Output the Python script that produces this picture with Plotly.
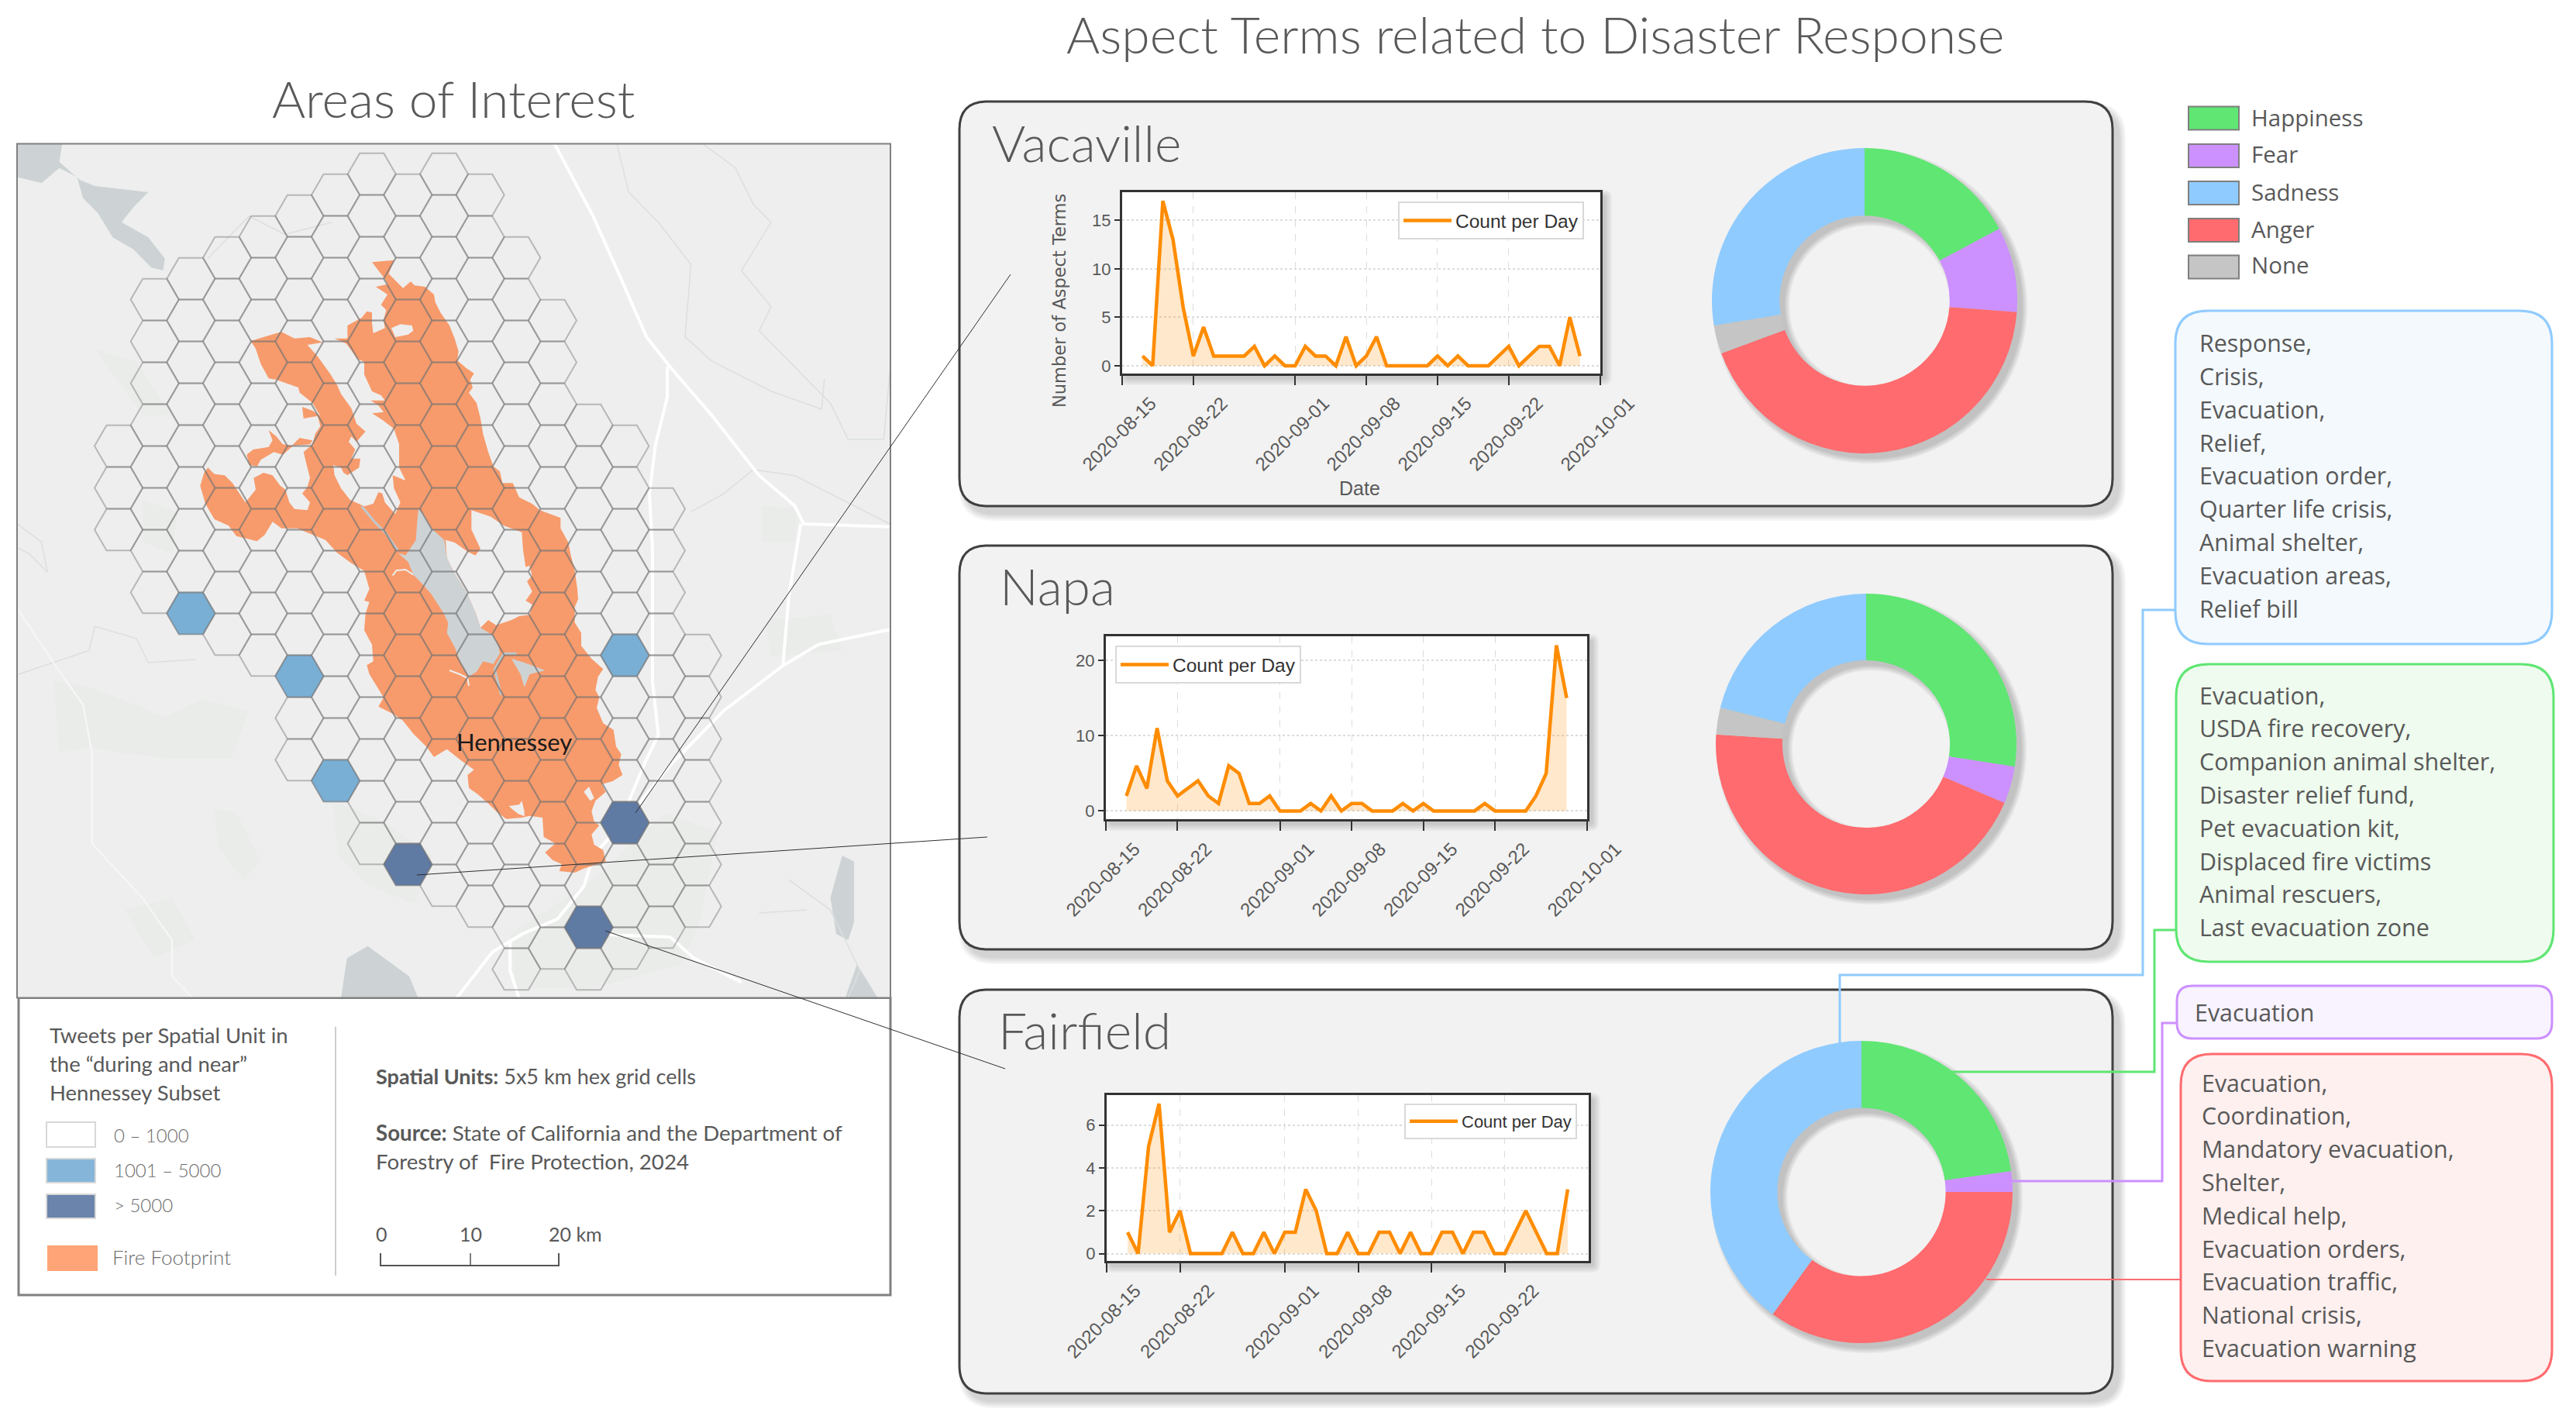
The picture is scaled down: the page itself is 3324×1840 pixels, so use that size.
# Aspect terms figure: map of the Hennessey fire plus per-city panels
import pandas as pd
import plotly.graph_objects as go

W = 3324
H = 1840
GREY_TEXT = "#595959"
SANS = "Liberation Sans"
LIGHT = "Lato"
UI = "Open Sans"

# ---- chart data ----
CITIES = ["Vacaville", "Napa", "Fairfield"]
TICK_DATES = ["2020-08-15", "2020-08-22", "2020-09-01", "2020-09-08", "2020-09-15", "2020-09-22", "2020-10-01"]

vacaville_counts = [1, 0, 17, 13, 6, 1, 4, 1, 1, 1, 1, 2, 0, 1, 0, 0, 2, 1, 1, 0, 3, 0, 1, 3, 0, 0, 0, 0, 0,
                    1, 0, 1, 0, 0, 0, 1, 2, 0, 1, 2, 2, 0, 5, 1]
napa_counts = [2, 6, 3, 11, 4, 2, 3, 4, 2, 1, 6, 5, 1, 1, 2, 0, 0, 0, 1, 0, 2, 0, 1, 1, 0, 0, 0, 1, 0,
               1, 0, 0, 0, 0, 0, 1, 0, 0, 0, 0, 2, 5, 22, 15]
fairfield_counts = [1, 0, 5, 7, 1, 2, 0, 0, 0, 0, 1, 0, 0, 1, 0, 1, 1, 3, 2, 0, 0, 1, 0, 0, 1, 1, 0, 1, 0,
                    0, 1, 1, 0, 1, 1, 0, 0, 1, 2, 1, 0, 0, 3]

EMOTIONS = ["Happiness", "Fear", "Anger", "None", "Sadness"]
EMOTION_COLORS = ["#5fe673", "#cc90ff", "#ff6b6e", "#c4c5c4", "#8fcbff"]
vacaville_shares = [17.2, 9.0, 43.2, 3.0, 27.6]
napa_shares = [27.4, 4.0, 44.6, 2.9, 21.1]
fairfield_shares = [22.8, 2.2, 35.0, 0.0, 40.0]

LEGEND_ORDER = ["Happiness", "Fear", "Sadness", "Anger", "None"]

sadness_terms = ["Response,", "Crisis,", "Evacuation,", "Relief,", "Evacuation order,", "Quarter life crisis,",
                 "Animal shelter,", "Evacuation areas,", "Relief bill"]
happiness_terms = ["Evacuation,", "USDA fire recovery,", "Companion animal shelter,", "Disaster relief fund,",
                   "Pet evacuation kit,", "Displaced fire victims", "Animal rescuers,", "Last evacuation zone"]
fear_terms = ["Evacuation"]
anger_terms = ["Evacuation,", "Coordination,", "Mandatory evacuation,", "Shelter,", "Medical help,",
               "Evacuation orders,", "Evacuation traffic,", "National crisis,", "Evacuation warning"]

# ---- map data: hex grid columns (first and last half-row of each column) ----
hex_first = [13, 6, 5, 4, 3, 2, 1, 0, 1, 0, 1, 4, 7, 12, 13, 16, 23]
hex_last = [17, 20, 21, 22, 23, 28, 29, 32, 33, 34, 35, 38, 37, 38, 37, 36, 35]
hex_mid_cells = [(2, 21), (5, 24), (6, 29), (14, 23)]
hex_high_cells = [(8, 33), (14, 31), (13, 36)]

fire_outline = [
  (720, 55), (805, 47), (785, 100), (815, 130), (840, 155), (870, 130), (885, 145), (925, 150), (960, 180),
  (965, 210), (985, 250), (1020, 300), (1040, 350), (1055, 400), (1050, 435), (1085, 465), (1115, 485),
  (1100, 510), (1110, 540), (1095, 560), (1125, 600), (1140, 660), (1150, 720), (1170, 790), (1190, 845),
  (1215, 865), (1225, 910), (1265, 910), (1290, 965), (1340, 990), (1370, 1015), (1450, 1045), (1450, 1085),
  (1480, 1140), (1490, 1190), (1505, 1250), (1515, 1320), (1518, 1360), (1505, 1390), (1505, 1450),
  (1530, 1490), (1530, 1540), (1570, 1590), (1615, 1630), (1595, 1660), (1585, 1710), (1600, 1740),
  (1590, 1780), (1615, 1840), (1655, 1865), (1665, 1930), (1685, 1960), (1675, 2000), (1690, 2040),
  (1650, 2065), (1610, 2075), (1625, 2105), (1585, 2140), (1570, 2180), (1580, 2220), (1600, 2235),
  (1570, 2270), (1580, 2310), (1615, 2330), (1625, 2375), (1540, 2402), (1505, 2418), (1445, 2412),
  (1455, 2385), (1420, 2370), (1390, 2340), (1430, 2305), (1385, 2280), (1380, 2205), (1330, 2198),
  (1300, 2205), (1240, 2210), (1205, 2185), (1170, 2150), (1130, 2115), (1095, 2090), (1090, 2040),
  (1115, 2020), (1060, 1980), (1010, 1940), (960, 1970), (930, 1930), (880, 1880), (840, 1830), (805, 1805),
  (745, 1775), (765, 1740), (750, 1715), (710, 1650), (700, 1615), (725, 1600), (720, 1535), (690, 1480),
  (695, 1415), (710, 1370), (690, 1365), (710, 1320), (690, 1250), (640, 1220), (585, 1180), (540, 1130),
  (490, 1110), (430, 1085), (370, 1085), (335, 1060), (305, 1110), (275, 1135), (195, 1115), (165, 1075),
  (110, 1050), (75, 990), (55, 920), (70, 870), (85, 850), (110, 875), (150, 880), (180, 910), (230, 985),
  (270, 935), (262, 890), (300, 870), (335, 880), (365, 920), (385, 935), (400, 985), (420, 1010), (470, 1015),
  (480, 985), (450, 950), (470, 925), (480, 890), (465, 830), (455, 790), (490, 760), (500, 720), (520, 690),
  (510, 650), (455, 660), (450, 615), (490, 630), (520, 650), (490, 600), (440, 560), (435, 540), (350, 510),
  (320, 505), (290, 450), (270, 390), (250, 360), (350, 330), (370, 325), (420, 350), (480, 345), (530, 365),
  (470, 375), (510, 420), (560, 490), (585, 530), (600, 565), (640, 620), (660, 680), (695, 710), (660, 750),
  (640, 730), (630, 750), (655, 780), (640, 815), (675, 815), (670, 850), (625, 880), (610, 870), (600, 850),
  (570, 840), (575, 880), (600, 930), (635, 975), (690, 1000), (725, 990), (745, 945), (760, 950), (770, 985),
  (810, 1030), (830, 985), (805, 930), (800, 880), (850, 900), (825, 850), (825, 760), (805, 700), (760, 665),
  (720, 640), (765, 635), (745, 610), (715, 590), (770, 590), (755, 570), (720, 555), (690, 490), (690, 440),
  (665, 430), (620, 370), (575, 350), (625, 350), (625, 300), (680, 270), (700, 245), (720, 250), (720, 290),
  (725, 330), (770, 310), (765, 280), (775, 240), (755, 220), (780, 180), (735, 150), (780, 140), (770, 120)]
fire_finger = [(490, 745), (440, 735), (410, 765), (375, 760), (350, 730), (320, 705), (335, 745), (320, 770),
               (260, 780), (235, 800), (245, 840), (275, 845), (290, 820), (340, 790), (375, 800), (415, 765),
               (480, 760)]
fire_holes = [
  [(795, 310), (830, 295), (875, 300), (880, 320), (860, 335), (810, 345)],
  [(1105, 1015), (1180, 1040), (1230, 1075), (1300, 1100), (1305, 1170), (1315, 1235), (1330, 1230), (1340, 1270),
   (1320, 1290), (1340, 1330), (1315, 1365), (1340, 1380), (1330, 1420), (1290, 1425), (1260, 1440), (1200, 1460),
   (1170, 1440), (1140, 1470), (1120, 1410), (1090, 1340), (1040, 1260), (1010, 1200), (1005, 1130), (1040, 1140),
   (1090, 1175), (1120, 1190), (1140, 1165), (1105, 1090)],
  [(1540, 2105), (1560, 2085), (1580, 2130), (1565, 2140)],
  [(1250, 2160), (1290, 2155), (1300, 2140), (1310, 2180), (1310, 2200), (1285, 2190), (1260, 2170)]]
fire_gaps = [[(800, 1268), (815, 1248), (850, 1245), (880, 1265)],
             [(1020, 1635), (1060, 1650), (1090, 1665), (1095, 1695)]]
lake_shore = [(900, 1010), (920, 1030), (950, 1085), (1000, 1130), (1010, 1200), (1040, 1260), (1090, 1340),
              (1120, 1410), (1140, 1470), (1190, 1500), (1210, 1540), (1215, 1570), (1190, 1610), (1150, 1600),
              (1125, 1640), (1095, 1660), (1065, 1610), (1040, 1545), (1010, 1490), (1015, 1450), (995, 1410),
              (950, 1340), (905, 1290), (880, 1265), (860, 1215), (820, 1180), (850, 1190), (890, 1130), (895, 1060)]
lake_arm = [(1260, 1590), (1310, 1605), (1390, 1635), (1330, 1650), (1310, 1700), (1295, 1650)]
rivers = [[(680, 1000), (730, 1060), (770, 1100), (820, 1170)],
          [(1230, 1570), (1195, 1630), (1220, 1730)],
          [(1230, 1570), (1280, 1570)]]

water_wide = [
  [(29, 110), (105, 110), (100, 140), (135, 170), (160, 180), (250, 190), (225, 215), (205, 240), (250, 265), (278, 300),
   (275, 320), (255, 315), (225, 285), (190, 265), (165, 225), (140, 200), (130, 165), (100, 150), (70, 175), (29, 165)],
  [(575, 1526), (585, 1460), (620, 1440), (655, 1465), (690, 1490), (705, 1526)],
  [(1420, 1290), (1440, 1300), (1440, 1400), (1430, 1430), (1410, 1420), (1400, 1360)],
  [(1425, 1526), (1445, 1470), (1480, 1526)]]
patches_wide = [
  [(90, 1000), (150, 1010), (280, 1060), (340, 1030), (420, 1050), (390, 1130), (290, 1130), (210, 1120), (150, 1110), (100, 1120)],
  [(360, 1210), (400, 1220), (440, 1300), (410, 1330), (370, 1280)],
  [(160, 450), (230, 470), (290, 560), (240, 560)],
  [(860, 1420), (1000, 1330), (1120, 1220), (1210, 1250), (1180, 1400), (1150, 1470), (1000, 1510), (870, 1510)],
  [(560, 1200), (640, 1230), (730, 1290), (700, 1370), (620, 1340), (570, 1290)],
  [(1285, 710), (1345, 715), (1340, 770), (1285, 770)],
  [(210, 1380), (290, 1360), (330, 1430), (260, 1460)],
  [(240, 700), (300, 720), (290, 790), (240, 770)],
  [(1290, 900), (1400, 890), (1420, 950), (1300, 960)]]
roads_wide = [
  [(935, 110), (1000, 230), (1050, 340), (1090, 430), (1130, 480), (1200, 560), (1280, 660), (1340, 710), (1355, 740), (1501, 745)],
  [(1125, 480), (1125, 530), (1105, 610), (1095, 690), (1100, 780), (1100, 1000), (1110, 1090), (1090, 1130), (1060, 1200)],
  [(1501, 915), (1380, 940), (1320, 975), (1220, 1050), (1130, 1140), (1060, 1225), (1000, 1290), (985, 1340), (940, 1395), (880, 1420), (830, 1450), (770, 1526)],
  [(1350, 740), (1330, 860), (1320, 975)],
  [(860, 1430), (860, 1480), (875, 1526)],
  [(1000, 1420), (1130, 1425), (1170, 1460), (1250, 1500)]]
borders_wide = [
  [(1040, 110), (1060, 190), (1110, 240), (1165, 310), (1155, 430), (1200, 470), (1300, 520), (1385, 550), (1390, 500)],
  [(1185, 110), (1240, 150), (1270, 210), (1300, 240), (1250, 320), (1300, 380), (1280, 420), (1310, 450), (1400, 540), (1430, 600), (1490, 600), (1501, 480)],
  [(29, 990), (90, 970), (150, 950), (160, 910), (230, 930), (250, 970), (330, 965)],
  [(29, 740), (70, 770), (80, 820), (50, 790), (30, 780)],
  [(1165, 720), (1220, 690), (1270, 650), (1340, 660), (1500, 740)],
  [(1330, 1330), (1400, 1380), (1450, 1480), (1430, 1526)],
  [(1280, 1385), (1360, 1380)],
  [(350, 300), (420, 230), (480, 260), (560, 240)]]
paths_wide = [[(29, 880), (90, 970), (140, 1040), (155, 1120), (155, 1270), (240, 1360), (290, 1430), (290, 1490), (325, 1526)]]

# ---- helpers ----
def px(x):
  return x / W

def py(y):
  return 1 - y / H

def pts(*points):
  # pixel positions on the page to a paper ref path
  return [(px(x), py(y)) for x, y in points]

def rounded_path(x0, y0, x1, y1, r):
  (a, b), (c, d) = pts((x0, y0), (x1, y1))
  rx = r / W
  ry = r / H
  return (f"M{a + rx},{b} L{c - rx},{b} Q{c},{b} {c},{b - ry} L{c},{d + ry} Q{c},{d} {c - rx},{d} "
          f"L{a + rx},{d} Q{a},{d} {a},{d + ry} L{a},{b - ry} Q{a},{b} {a + rx},{b} Z")

def circle_path(cx, cy, r):
  k = 0.5523 * r
  def p(dx, dy):
    return f"{px(cx + dx)},{py(cy + dy)}"
  return (f"M{p(r, 0)} C{p(r, k)} {p(k, r)} {p(0, r)} C{p(-k, r)} {p(-r, k)} {p(-r, 0)} "
          f"C{p(-r, -k)} {p(-k, -r)} {p(0, -r)} C{p(k, -r)} {p(r, -k)} {p(r, 0)} Z")

def path_shape(path, fill="rgba(0,0,0,0)", line=None, width=0, layer="below", fillrule=None):
  shape = dict(type="path", xref="paper", yref="paper", path=path, fillcolor=fill, layer=layer,
               line=dict(color=line or "rgba(0,0,0,0)", width=width))
  if fillrule:
    shape["fillrule"] = fillrule
  return shape

def line_shape(points, color, width, layer="above"):
  path = "M" + " L".join(f"{a},{b}" for a, b in pts(*points))
  return path_shape(path, fill="rgba(0,0,0,0)", line=color, width=width, layer=layer)

def rect_shape(x0, y0, x1, y1, fill, line=None, width=0, layer="below"):
  return dict(type="rect", xref="paper", yref="paper", x0=px(x0), x1=px(x1), y0=py(y0), y1=py(y1),
              fillcolor=fill, layer=layer, line=dict(color=line or "rgba(0,0,0,0)", width=width))

def soft_shadow(x0, y0, x1, y1, r, dx=8, dy=10):
  return [path_shape(rounded_path(x0 + dx - k, y0 + dy - k, x1 + dx + k, y1 + dy + k, r + k), fill="rgba(0,0,0,0.035)")
          for k in (9, 7, 5, 3, 1)]

def text(label, x, y, size, color=GREY_TEXT, font=LIGHT, anchor="left", weight=None, angle=0):
  f = dict(family=font, size=size, color=color)
  if weight:
    f["weight"] = weight
  return dict(text=label, x=px(x), y=py(y), xref="paper", yref="paper", xanchor=anchor, yanchor="middle",
              showarrow=False, font=f, textangle=angle)

def from_wide(points):
  # wide crop positions to map units
  return [(2.296 * a - 720, 2.335 * b - 660) for a, b in points]

def split_xy(polys):
  xs, ys = [], []
  for poly in polys:
    xs += [p[0] for p in poly] + [None]
    ys += [p[1] for p in poly] + [None]
  return xs, ys

def closed(poly):
  return poly + [poly[0]]

def map_fill(polys, color):
  xs, ys = split_xy([closed(p) for p in polys])
  return go.Scatter(x=xs, y=ys, mode="lines", fill="toself", fillcolor=color, line=dict(width=0),
                    hoverinfo="skip", showlegend=False, xaxis="x", yaxis="y")

def map_line(polys, color, width):
  xs, ys = split_xy(polys)
  return go.Scatter(x=xs, y=ys, mode="lines", line=dict(color=color, width=width),
                    hoverinfo="skip", showlegend=False, xaxis="x", yaxis="y")

def hex_xy(col, half_row):
  return -261 + 140 * col, -286.5 + 81 * half_row

def hex_trace(cells, fill):
  xs = [hex_xy(c, r)[0] for c, r in cells]
  ys = [hex_xy(c, r)[1] for c, r in cells]
  return go.Scatter(x=xs, y=ys, mode="markers", hoverinfo="skip", showlegend=False, xaxis="x", yaxis="y",
                    marker=dict(symbol="hexagon2", size=62, color=fill,
                                line=dict(color="rgba(115,115,115,0.45)", width=2)))

fig = go.Figure()
shapes = []
notes = []

# ---- map ----
MAP_BG = "#eeeeee"
all_cells = [(c, r) for c in range(len(hex_first)) for r in range(hex_first[c], hex_last[c] + 1, 2)]
fig.add_trace(map_fill([from_wide(p) for p in patches_wide], "#eaecea"))
fig.add_trace(map_fill([from_wide(p) for p in water_wide], "#cdd3d5"))
fig.add_trace(map_line([from_wide(p) for p in borders_wide], "#dcdfdf", 1.5))
fig.add_trace(map_line([from_wide(p) for p in paths_wide], "#f7f7f7", 2))
fig.add_trace(map_line([from_wide(p) for p in roads_wide], "#ffffff", 4))
fig.add_trace(map_fill([fire_outline, fire_finger], "#f79b6c"))
fig.add_trace(map_fill(fire_holes, MAP_BG))
fig.add_trace(map_line(fire_gaps, MAP_BG, 2))
fig.add_trace(map_fill([lake_shore, lake_arm], "#cdd3d5"))
fig.add_trace(map_line(rivers, "#bfc8cc", 3))
fig.add_trace(hex_trace(all_cells, "rgba(0,0,0,0)"))
fig.add_trace(hex_trace(hex_mid_cells, "#7aafd5"))
fig.add_trace(hex_trace(hex_high_cells, "#5f7aa3"))

shapes.append(dict(type="rect", xref="x", yref="y", x0=-654, x1=2727, y0=-403.5, y1=2902.5, fillcolor=MAP_BG,
                   layer="below", line=dict(width=0)))
shapes.append(rect_shape(22, 185.5, 1149, 1287.5, "rgba(0,0,0,0)", "#808080", 2, layer="above"))
shapes.append(rect_shape(24, 1287.5, 1149, 1671, "#ffffff", "#808080", 3))
notes.append(text("Areas of Interest", 585, 127, 66, anchor="center", weight=300))
notes.append(text("Hennessey", 663, 957, 31, color="#1a1a1a"))
notes[-1]["xanchor"] = "center"

# map legend
for label, y, y0, y1, fill in [("0 – 1000", 1464, 1448, 1480, "#ffffff"),
                               ("1001 – 5000", 1509, 1495, 1526, "#85b6da"),
                               ("> 5000", 1554, 1541, 1572, "#6a84ab")]:
  shapes.append(rect_shape(60, y0, 123, y1, fill, "#d8d8d8", 2))
  notes.append(text(label, 145, y, 24, color="#6b6b6b", weight=300))
shapes.append(rect_shape(61, 1607, 126, 1640, "#ffa476"))
notes.append(text("Fire Footprint", 143, 1622, 26, color="#6b6b6b", weight=300))
for i, line in enumerate(["Tweets per Spatial Unit in", "the “during and near”", "Hennessey Subset"]):
  notes.append(text(line, 62, 1335 + 37 * i, 27.5))
shapes.append(line_shape([(433, 1325), (433, 1646)], "#bdbdbd", 1.5, layer="below"))
notes.append(text("<b>Spatial Units:</b> 5x5 km hex grid cells", 483, 1388, 27))
notes.append(text("<b>Source:</b> State of California and the Department of", 483, 1461, 27.7))
notes.append(text("Forestry of  Fire Protection, 2024", 483, 1498, 27.7))
notes.append(text("0", 492, 1592, 25, anchor="center"))
notes.append(text("10", 607, 1592, 25, anchor="center"))
notes.append(text("20 km", 742, 1592, 25, anchor="center"))
shapes.append(line_shape([(491, 1617), (491, 1633), (721, 1633), (721, 1617)], "#555555", 2, layer="below"))
shapes.append(line_shape([(607, 1617), (607, 1633)], "#555555", 1.5, layer="below"))

# ---- panels ----
notes.append(text("Aspect Terms related to Disaster Response", 1981, 44, 66, anchor="center", weight=300))
PANEL_BOXES = [(1238, 131, 2726, 653), (1238, 704, 2726, 1225), (1238, 1277, 2726, 1798)]
PANEL_TITLES = [(1278, 184), (1288, 755), (1286, 1328)]
for box, name, (tx, ty) in zip(PANEL_BOXES, CITIES, PANEL_TITLES):
  shapes += soft_shadow(*box, 36)
  shapes.append(path_shape(rounded_path(*box, 36), fill="#f2f2f2", line="#404040", width=3))
  notes.append(text(name, tx, ty, 66, weight=300))

# time series panels: box in page pixels, y range, x range and which ticks
CHARTS = [
  dict(counts=vacaville_counts, box=(1448, 248, 2065, 482), yr=[-0.8, 17.9], yt=[0, 5, 10, 15],
       end="2020-10-01", ticks=TICK_DATES, leg=(1804, 260), font=24.5, entry=178),
  dict(counts=napa_counts, box=(1427, 821, 2048, 1057), yr=[-1.09, 23.2], yt=[0, 10, 20],
       end="2020-10-01", ticks=TICK_DATES, leg=(1439, 833), font=24.5, entry=178),
  dict(counts=fairfield_counts, box=(1428, 1413, 2050, 1627), yr=[-0.34, 7.4], yt=[0, 2, 4, 6],
       end="2020-09-30", ticks=TICK_DATES[:-1], leg=(1812, 1424), font=22, entry=150),
]
axes = {}
for n, chart in enumerate(CHARTS):
  k = n + 2
  x0, y0, x1, y1 = chart["box"]
  days = pd.date_range("2020-08-17", periods=len(chart["counts"]), freq="D")
  fig.add_trace(go.Scatter(x=days, y=chart["counts"], mode="lines", fill="tozeroy", fillcolor="rgba(255,140,0,0.2)",
                           line=dict(width=0), hoverinfo="skip", showlegend=False, xaxis=f"x{k}", yaxis=f"y{k}"))
  fig.add_trace(go.Scatter(x=days, y=chart["counts"], mode="lines", line=dict(color="#ff8c00", width=4.5),
                           name="Count per Day", xaxis=f"x{k}", yaxis=f"y{k}",
                           legend="legend" if n == 0 else f"legend{n + 1}"))
  # below shapes sit on top of the plot background, so the white goes in as a shape too
  shapes += soft_shadow(x0, y0, x1, y1, 2, dx=6, dy=6)
  shapes.append(rect_shape(x0, y0, x1, y1, "#ffffff"))
  axes[f"xaxis{k}"] = dict(domain=[px(x0), px(x1)], anchor=f"y{k}", type="date", range=["2020-08-15", chart["end"]],
                           tickmode="array", tickvals=chart["ticks"], ticktext=chart["ticks"], tickangle=-45,
                           ticks="outside", ticklen=12, tickwidth=2, tickcolor="#333333", ticklabelshift=37,
                           ticklabelstandoff=0, automargin=False,
                           tickfont=dict(family=SANS, size=24, color=GREY_TEXT), showline=True, linecolor="#333333",
                           linewidth=3, mirror=True, showgrid=True, gridcolor="#dcdcdc", griddash="dash", gridwidth=1,
                           zeroline=False)
  axes[f"yaxis{k}"] = dict(domain=[py(y1), py(y0)], anchor=f"x{k}", range=chart["yr"], tickmode="array",
                           tickvals=chart["yt"], ticks="outside", ticklen=7, tickwidth=2, tickcolor="#333333",
                           automargin=False,
                           tickfont=dict(family=SANS, size=22, color=GREY_TEXT), showline=True, linecolor="#333333",
                           linewidth=3, mirror=True, showgrid=True, gridcolor="#dcdcdc", griddash="dot", gridwidth=1.5,
                           zeroline=False)
  axes["legend" if n == 0 else f"legend{n + 1}"] = dict(
    x=px(chart["leg"][0]), y=py(chart["leg"][1]), xanchor="left", yanchor="top", bgcolor="#ffffff",
    bordercolor="#d9d9d9", borderwidth=2, itemwidth=62, entrywidth=chart["entry"], entrywidthmode="pixels",
    font=dict(family=SANS, size=chart["font"], color="#333333"))

notes.append(text("Number of Aspect Terms", 1367, 388, 22.5, font="DejaVu Sans", anchor="center", angle=-90))
notes.append(text("Date", 1755, 630, 25, font=SANS, anchor="center"))

# ---- donuts ----
PIES = [(vacaville_shares, 2406, 388, 197), (napa_shares, 2408, 960, 194), (fairfield_shares, 2402, 1538, 195)]
for shares, cx, cy, r in PIES:
  inner = r * 0.557
  for k in (6, 4, 2, 0):
    ring = circle_path(cx + 7, cy + 7, r + k) + " " + circle_path(cx + 7, cy + 7, inner - k)
    shapes.append(path_shape(ring, fill="rgba(0,0,0,0.05)", fillrule="evenodd"))
  fig.add_trace(go.Pie(labels=EMOTIONS, values=shares, hole=0.557, sort=False, direction="clockwise", rotation=0,
                       marker=dict(colors=EMOTION_COLORS), textinfo="none", hoverinfo="label+percent",
                       showlegend=False,
                       domain=dict(x=[px(cx - r), px(cx + r)], y=[py(cy + r), py(cy - r)])))

# donut legend
SWATCH_TOPS = [137.5, 186, 234, 282, 329.5]
LABEL_Y = [151, 199, 247, 296, 341]
for name, top, ly in zip(LEGEND_ORDER, SWATCH_TOPS, LABEL_Y):
  color = EMOTION_COLORS[EMOTIONS.index(name)]
  shapes.append(rect_shape(2824, top, 2889, top + 30, color, "#7f7f7f", 2))
  notes.append(text(name, 2903, ly, 29.5, font=UI))

# term boxes and their connectors
TERM_BOXES = [
  (sadness_terms, (2807, 401, 3293, 831), 2836, 442.7, "#8fcbff", "#f4f9fd", 42),
  (happiness_terms, (2808, 857, 3295, 1241), 2836, 897, "#5fe673", "#eefbee", 42),
  (fear_terms, (2809, 1272, 3293, 1340), 2830, 1306, "#cc90ff", "#f8f3fe", 20),
  (anger_terms, (2814, 1360, 3293, 1782), 2839, 1397, "#ff6b6e", "#fef0ef", 40),
]
for terms, box, tx, ty, edge, fill, r in TERM_BOXES:
  shapes.append(path_shape(rounded_path(*box, r), fill=fill, line=edge, width=3))
  for i, term in enumerate(terms):
    notes.append(text(term, tx, ty + 42.8 * i, 30.4, font=UI))

shapes.append(line_shape([(2807, 787), (2765, 787), (2765, 1258), (2374, 1258), (2374, 1346)], "#8fcbff", 3))
shapes.append(line_shape([(2808, 1200), (2780, 1200), (2780, 1383), (2518, 1383)], "#5fe673", 3))
shapes.append(line_shape([(2809, 1320), (2790, 1320), (2790, 1524), (2596, 1524)], "#cc90ff", 3))
shapes.append(line_shape([(2814, 1651), (2563, 1651)], "#ff6b6e", 2))

# thin leader lines from the hexes to the panels
shapes.append(line_shape([(820, 1049), (1304, 354)], "#303030", 1))
shapes.append(line_shape([(538, 1129), (1274, 1080)], "#303030", 1))
shapes.append(line_shape([(781, 1201), (1297, 1379)], "#303030", 1))

fig.update_layout(
  template="none",
  width=W,
  height=H,
  autosize=False,
  margin=dict(l=0, r=0, t=0, b=0, pad=0),
  paper_bgcolor="#ffffff",
  plot_bgcolor="#ffffff",
  xaxis=dict(domain=[px(22), px(1149)], range=[-654, 2727], visible=False, anchor="y", automargin=False),
  yaxis=dict(domain=[py(1287.5), py(185.5)], range=[2902.5, -403.5], visible=False, anchor="x", automargin=False),
  shapes=shapes,
  annotations=notes,
  **axes
)

fig.write_html("out.html", config={"displayModeBar": False}, post_script="document.body.style.margin='0';")
